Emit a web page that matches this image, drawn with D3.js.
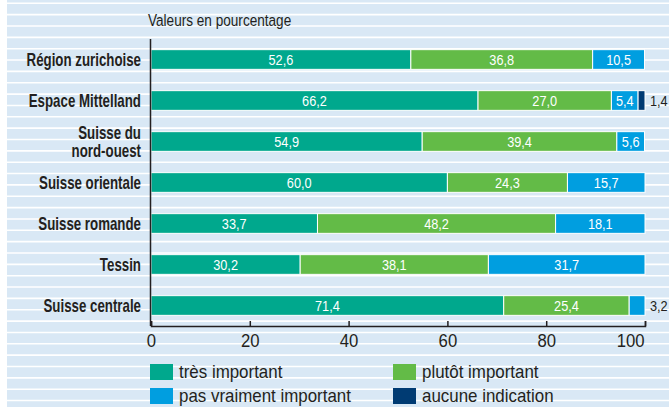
<!DOCTYPE html>
<html>
<head>
<meta charset="utf-8">
<script src="https://cdn.jsdelivr.net/npm/d3@7"></script>
<style>
  body { margin: 0; background: #fff; }
  svg { display: block; font-family: "Liberation Sans", Arial, sans-serif; }
</style>
</head>
<body>
<svg id="chart"></svg>
<script>
// data
var regions = ["Région zurichoise", "Espace Mittelland", "Suisse du\nnord-ouest", "Suisse orientale",
               "Suisse romande", "Tessin", "Suisse centrale"];
var tresImportant    = [52.6, 66.2, 54.9, 60.0, 33.7, 30.2, 71.4];
var plutotImportant  = [36.8, 27.0, 39.4, 24.3, 48.2, 38.1, 25.4];
var pasVraiment      = [10.5, 5.4, 5.6, 15.7, 18.1, 31.7, 3.2];
var aucuneIndication = [0, 1.4, 0, 0, 0, 0, 0];
var seriesNames = ["très important", "plutôt important", "pas vraiment important", "aucune indication"];
var seriesColors = ["#00a88d", "#63bb47", "#009ee0", "#003b73"];
var xTicks = [0, 20, 40, 60, 80, 100];

var width = 669, height = 407;
var ink = "#231f20";
var svg = d3.select("#chart").attr("width", width).attr("height", height);

// condensed look: draw text squeezed horizontally
function narrow(parent, x, y, sx) {
  return parent.append("text")
    .attr("transform", "translate(" + x + "," + y + ") scale(" + sx + ",1)");
}

// background + white stripes
svg.append("rect").attr("width", width).attr("height", height).attr("fill", "#fff");
svg.append("rect").attr("x", 7).attr("width", width - 7).attr("height", height).attr("fill", "#d9e8f5");
svg.selectAll("line.stripe")
  .data(d3.range(0, 36))
  .enter()
  .append("line")
  .attr("class", "stripe")
  .attr("x1", 7).attr("x2", width)
  .attr("y1", function(d) { return 3.3 + d * 11.35; })
  .attr("y2", function(d) { return 3.3 + d * 11.35; })
  .attr("stroke", "#fff")
  .attr("stroke-width", 1.6);

var x = d3.scaleLinear().domain([0, 100]).range([151, 645]);
var y = d3.scaleBand().domain(regions).range([39, 326]).paddingInner(0.52).paddingOuter(0.26);

var rows = regions.map(function(r, i) {
  return { region: r, a: tresImportant[i], b: plutotImportant[i], c: pasVraiment[i], d: aucuneIndication[i] };
});
var layers = d3.stack().keys(["a", "b", "c", "d"])(rows);

narrow(svg, 148, 26, 0.8)
  .attr("font-size", "17px").attr("fill", ink)
  .text("Valeurs en pourcentage");

var g = svg.selectAll("g.layer")
  .data(layers)
  .enter()
  .append("g")
  .attr("class", "layer")
  .attr("fill", function(d, i) { return seriesColors[i]; });

g.selectAll("rect")
  .data(function(d) { return d.filter(function(s) { return s[1] - s[0] > 0; }); })
  .enter()
  .append("rect")
  .attr("x", function(d) { return x(d[0]); })
  .attr("y", function(d) { return y(d.data.region); })
  .attr("width", function(d) { return x(d[1]) - x(d[0]); })
  .attr("height", y.bandwidth())
  .attr("stroke", "#fff")
  .attr("stroke-width", 1);

// value labels
layers.forEach(function(layer) {
  layer.forEach(function(s) {
    var v = s[1] - s[0];
    if (v <= 0) return;
    var inside = v >= 4;
    narrow(svg, inside ? (x(s[0]) + x(s[1])) / 2 : x(100) + 5, y(s.data.region) + y.bandwidth() / 2, 0.85)
      .attr("dy", "0.36em")
      .attr("text-anchor", inside ? "middle" : "start")
      .attr("font-size", "15px")
      .attr("fill", inside ? "#fff" : ink)
      .text(d3.format(".1f")(v).replace(".", ","));
  });
});

// row labels
regions.forEach(function(r) {
  var lines = r.split("\n");
  var t = narrow(svg, 141, y(r) + y.bandwidth() / 2, 0.76)
    .attr("text-anchor", "end")
    .attr("font-size", "17.5px")
    .attr("font-weight", "bold")
    .attr("fill", ink);
  lines.forEach(function(l, k) {
    t.append("tspan")
      .attr("x", 0)
      .attr("dy", k == 0 ? (0.36 - (lines.length - 1) * 0.52) + "em" : "1.04em")
      .text(l);
  });
});

// axes
svg.append("line")
  .attr("x1", 150.5).attr("x2", 150.5)
  .attr("y1", 39).attr("y2", 326)
  .attr("stroke", ink).attr("stroke-width", 1.5);

var axisX = d3.axisBottom(x).tickValues(xTicks).tickSizeInner(-5).tickSizeOuter(-5).tickPadding(8);
var ax = svg.append("g")
  .attr("transform", "translate(0,326)")
  .call(axisX);
ax.select(".domain").attr("stroke", ink).attr("stroke-width", 1.5);
ax.selectAll(".tick line").attr("stroke", ink).attr("stroke-width", 1.5);
ax.selectAll(".tick text")
  .attr("font-family", "'Liberation Sans', Arial, sans-serif")
  .attr("font-size", "19px")
  .attr("transform", "scale(0.88,1)")
  .attr("fill", ink);
ax.selectAll(".tick text").filter(function(d) { return d == 100; })
  .attr("text-anchor", "end").attr("dx", "-1");

// legend
var legend = svg.selectAll("g.legend")
  .data(seriesNames)
  .enter()
  .append("g")
  .attr("class", "legend")
  .attr("transform", function(d, i) {
    return "translate(" + (i % 2 == 0 ? 150 : 393) + "," + (i < 2 ? 364 : 388) + ")";
  });
legend.append("rect")
  .attr("width", 23).attr("height", 16)
  .attr("fill", function(d, i) { return seriesColors[i]; });
legend.each(function(d) {
  narrow(d3.select(this), 29, 8, 0.94)
    .attr("dy", "0.36em")
    .attr("font-size", "18px").attr("fill", ink)
    .text(d);
});
</script>
</body>
</html>
